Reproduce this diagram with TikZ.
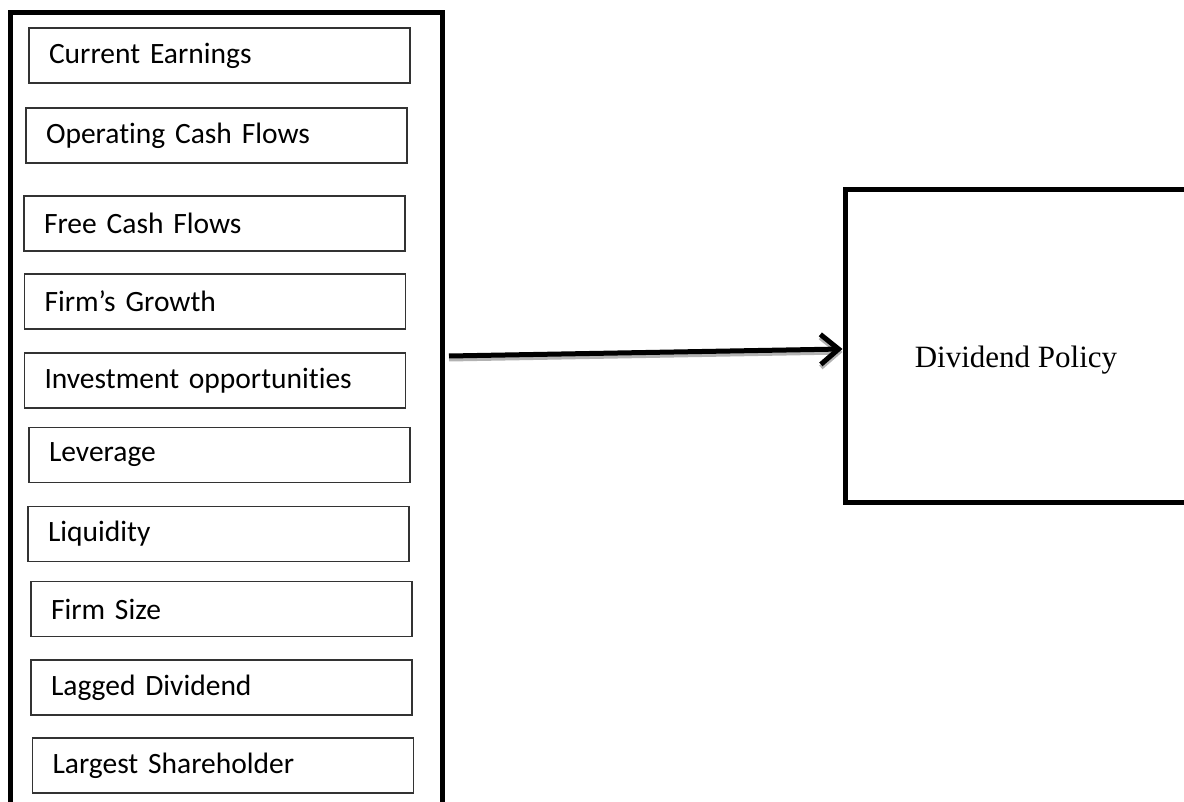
\documentclass[tikz,border=0pt]{standalone}
\usepackage{fontspec}
\setmainfont{Liberation Serif}
\newfontfamily\calibri[Ligatures=NoCommon,WordSpace=0.8]{Carlito}
\usetikzlibrary{arrows.meta,calc}

\begin{document}
\begin{tikzpicture}[x=1pt,y=-1pt]
    \tikzstyle{factor}=[draw=black!80,line width=1.2pt,minimum width=381pt,minimum height=55pt,text width=341pt,inner xsep=20pt,inner ysep=0pt,align=left,font=\calibri\fontsize{29.5}{34}\selectfont]
    \tikzstyle{frame}=[draw=black,line width=5pt,inner sep=0pt]
    \tikzstyle{flow}=[line width=5pt,-{Straight Barb[length=18pt,width=30pt]}]
    \tikzstyle{shade}=[flow,draw=gray!60]
    \useasboundingbox (0,0) rectangle (1184,802);
    \clip (0,0) rectangle (1184,802);
    \node[frame,minimum width=432pt,minimum height=807pt] (grp) at (226,416.5) {};
    \node[factor] (f_1) at (219.5,55.5) {Current Earnings};
    \node[factor] (f_2) at (216.5,135.5) {Operating Cash Flows};
    \node[factor] (f_3) at (214.5,223.5) {Free Cash Flows};
    \node[factor] (f_4) at (215,301.5) {Firm’s Growth};
    \node[factor] (f_5) at (215,380.5) {Investment opportunities};
    \node[factor] (f_6) at (219.5,455) {Leverage};
    \node[factor] (f_7) at (218.5,534) {Liquidity};
    \node[factor] (f_8) at (221.5,609) {Firm Size};
    \node[factor] (f_9) at (221.5,687.5) {Lagged Dividend};
    \node[factor] (f_10) at (223,765.5) {Largest Shareholder};
    \node[frame,minimum width=342pt,minimum height=312pt] (dp) at (1016,346) {};
    \node[font=\fontsize{31}{36}\selectfont] (dp_label) at ([yshift=-14pt]dp.center) {Dividend Policy};
    \coordinate (a_0) at (449,356);
    \draw[shade] ([yshift=-3pt]a_0) -- ([yshift=-6pt]dp.west);
    \draw[flow] (a_0) -- ([yshift=-3pt]dp.west);
\end{tikzpicture}
\end{document}
